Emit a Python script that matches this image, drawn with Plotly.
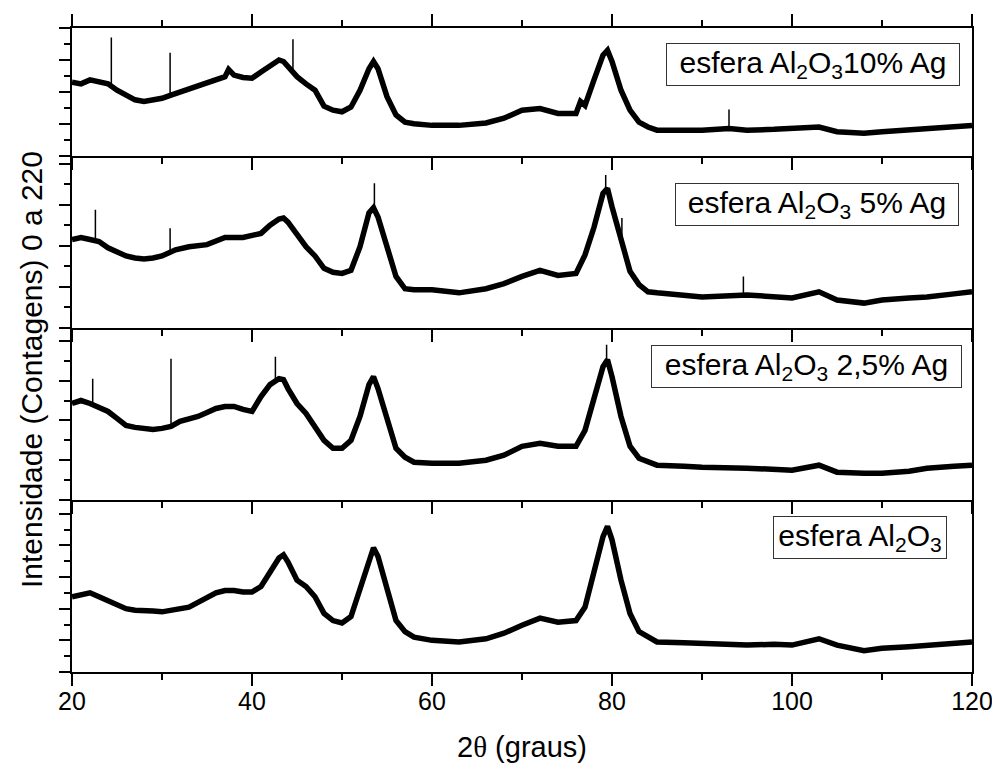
import plotly.graph_objects as go

# ---------------- data ----------------
# Panel 1 (top): esfera Al2O3 10% Ag
p1_x = [20, 21, 22, 23, 24, 25, 26, 27, 28, 29, 30, 31.0,
        32, 33, 34, 35, 36, 37, 37.4, 38, 39, 40, 41, 42, 43, 43.5, 44, 44.5,
        45, 46, 47, 48, 49, 50, 51, 52, 53, 53.5, 54, 55, 56, 57, 58, 60, 63, 66, 68, 70,
        72, 74, 76, 76.5, 77, 78, 79, 79.5, 80, 81, 82, 83, 84, 85, 88, 90, 93,
        95, 98, 100, 103, 105, 108, 110, 113, 115, 118, 120]
p1_y = [92, 90, 95, 92, 90, 82, 76, 70, 68, 70, 72, 76,
        80, 84, 88, 92, 96, 99, 108, 101, 98, 97, 105, 113, 120, 118, 111, 106,
        99, 90, 82, 62, 57, 55, 61, 82, 109, 118, 109, 74, 51, 42, 40, 38, 38, 41, 47, 57,
        59, 53, 53, 68, 63, 95, 126, 132, 118, 82, 57, 42, 36, 32, 32, 32, 34,
        32, 33, 34, 36, 30, 28, 30, 32, 34, 36, 38]
p1_spike_x = [24.37, 30.9, 44.55, 93.0]
p1_spike_lo = [88, 74, 104, 34]
p1_spike_hi = [148, 129, 146, 58]

# Panel 2: esfera Al2O3 5% Ag
p2_x = [20, 21, 22, 23, 24, 25, 26, 27, 28, 29, 30,
        31.5, 33, 35, 37, 39, 41, 42, 43, 43.5, 44, 45, 46, 47, 48, 49, 50, 51, 52, 53,
        53.5, 54, 55, 56, 57, 58, 60, 63, 66, 68, 70, 72, 74, 76, 77, 78, 79,
        79.5, 80, 80.5, 81, 82, 83, 84, 85, 88, 90, 95, 98, 100, 103, 105, 108, 110,
        113, 115, 118, 120]
p2_y = [86, 88, 86, 84, 78, 74, 70, 68, 67, 68, 70,
        76, 79, 81, 88, 88, 92, 100, 106, 107, 103, 91, 79, 70, 58, 54, 53, 56, 79, 112,
        117, 108, 79, 50, 38, 37, 37, 34, 38, 43, 50, 56, 51, 53, 71, 98, 131,
        136, 118, 102, 84, 55, 42, 35, 34, 31, 30, 32, 30, 29, 35, 27, 24, 27,
        29, 30, 33, 35]
p2_spike_x = [22.6, 30.9, 53.6, 79.3, 81.1, 94.6]
p2_spike_lo = [86, 72, 115, 134, 84, 31]
p2_spike_hi = [115, 97, 141, 149, 107, 50]

# Panel 3: esfera Al2O3 2,5% Ag
p3_x = [20, 21, 22, 23, 24, 25, 26, 27, 28, 29, 30, 31.0,
        32, 33, 34, 35, 36, 37, 38, 39, 40, 41, 42, 43, 43.5, 44, 45,
        46, 47, 48, 49, 50, 51, 52, 53, 53.5, 54, 55, 56, 57, 58, 60, 63, 66, 68, 70, 72,
        74, 76, 77, 78, 79, 79.5, 80, 81, 82, 83, 84, 85, 88, 90, 95, 98, 100, 103,
        105, 108, 110, 113, 115, 118, 120]
p3_y = [97, 100, 97, 93, 89, 82, 75, 73, 72, 71, 72, 74,
        79, 81, 84, 88, 92, 94, 94, 91, 89, 104, 116, 122, 121, 112, 97,
        87, 74, 60, 52, 52, 60, 84, 116, 124, 112, 80, 52, 43, 38, 37, 37, 40, 45, 54, 57,
        54, 54, 70, 100, 134, 141, 124, 84, 54, 42, 38, 35, 34, 33, 32, 31, 30, 35,
        28, 27, 27, 29, 32, 34, 35]
p3_spike_x = [22.3, 31.0, 42.6, 79.4]
p3_spike_lo = [97, 73, 119, 138]
p3_spike_hi = [122, 142, 144, 156]

# Panel 4 (bottom): esfera Al2O3
p4_x = [20, 21, 22, 23, 24, 25, 26, 27, 28, 29, 30, 31, 32, 33, 34, 35, 36, 37, 38, 39, 40,
        41, 42, 43, 43.5, 44, 45, 46, 47, 48, 49, 50, 51, 52, 53, 53.5, 54, 55, 56, 57, 58,
        60, 63, 66, 68, 70, 72, 74, 76, 77, 78, 79, 79.5, 80, 81, 82, 83, 84, 85, 88, 90,
        95, 98, 100, 103, 105, 108, 110, 113, 115, 118, 120]
p4_y = [95, 97, 100, 95, 90, 84, 80, 78, 78, 77, 76, 78, 79, 82, 88, 94, 100, 103, 103, 101, 101,
        108, 125, 144, 148, 139, 116, 108, 95, 74, 65, 62, 70, 103, 141, 157, 146, 103, 65, 51, 44,
        40, 38, 42, 49, 59, 68, 63, 65, 82, 125, 171, 184, 167, 116, 74, 51, 44, 38, 37, 36,
        34, 35, 34, 42, 34, 27, 30, 32, 34, 36, 38]
p4_spike_x = []
p4_spike_lo = []
p4_spike_hi = []

labels = ["esfera Al<sub>2</sub>O<sub>3</sub>10% Ag",
          "esfera Al<sub>2</sub>O<sub>3</sub> 5% Ag",
          "esfera Al<sub>2</sub>O<sub>3</sub> 2,5% Ag",
          "esfera Al<sub>2</sub>O<sub>3</sub>"]
x_ticks = [20, 40, 60, 80, 100, 120]
x_minor = [30, 50, 70, 90, 110]
y_title = "Intensidade (Contagens) 0 a 220"
x_title = "2<span style=\"font-family:'Liberation Serif'\">θ</span> (graus)"

# ---------------- layout constants ----------------
W, H = 992, 763
ML, MR, MT, MB = 72, 20, 28, 91
PW, PH = W - ML - MR, H - MT - MB
FONT = "Arial, 'Liberation Sans', sans-serif"

def py(pix):  # pixel y -> paper y
    return (H - MB - pix) / PH

def px(pix):
    return (pix - ML) / PW

# panel pixel bounds (top, bottom) and y ranges, top -> bottom
bounds = [(28, 155.7), (155.7, 327.7), (327.7, 500), (500, 672)]
yranges = [160, 167.8, 173.2, 217.3]
series = [(p1_x, p1_y), (p2_x, p2_y), (p3_x, p3_y), (p4_x, p4_y)]
spikes = [(p1_spike_x, p1_spike_lo, p1_spike_hi), (p2_spike_x, p2_spike_lo, p2_spike_hi),
          (p3_spike_x, p3_spike_lo, p3_spike_hi), (p4_spike_x, p4_spike_lo, p4_spike_hi)]

fig = go.Figure()
n = 4
for i in range(n):
    k = n - i  # axis index: bottom panel = 1
    xs, ys = series[i]
    xa = "x" if k == 1 else f"x{k}"
    ya = "y" if k == 1 else f"y{k}"
    fig.add_trace(go.Scatter(x=xs, y=ys, mode="lines",
                             line=dict(color="black", width=5.5),
                             xaxis=xa, yaxis=ya, showlegend=False,
                             hoverinfo="skip"))
    sx, slo, shi = spikes[i]
    segx, segy = [], []
    for a, lo, hi in zip(sx, slo, shi):
        segx += [a, a, None]
        segy += [lo, hi, None]
    if segx:
        fig.add_trace(go.Scatter(x=segx, y=segy, mode="lines",
                                 line=dict(color="black", width=1.5),
                                 xaxis=xa, yaxis=ya, showlegend=False,
                                 hoverinfo="skip"))
    top, bot = bounds[i]
    dom = [max(0, py(bot)), min(1, py(top))]
    xkey = "xaxis" if k == 1 else f"xaxis{k}"
    ykey = "yaxis" if k == 1 else f"yaxis{k}"
    fig.layout[xkey] = dict(
        range=[20, 120], anchor=ya, showline=True, linewidth=2, linecolor="black",
        ticks="outside", ticklen=12, tickwidth=2, tickcolor="black",
        tickvals=x_ticks, showticklabels=(k == 1), showgrid=False, zeroline=False,
        mirror=("ticks" if k == n else False), automargin=False,
        ticklabeloverflow="allow", ticklabelstandoff=-6,
        minor=dict(tickvals=x_minor, ticks="outside", ticklen=6,
                   tickwidth=2, tickcolor="black"),
        tickfont=dict(family=FONT, size=25, color="black"),
        **({} if k == 1 else {"matches": "x"}))
    fig.layout[ykey] = dict(
        domain=dom, range=[0, yranges[i]], anchor=xa, showline=True, linewidth=2,
        linecolor="black", mirror=True, ticks="outside", ticklen=11, tickwidth=2,
        tickcolor="black", tick0=0, dtick=40, showticklabels=False, showgrid=False,
        zeroline=False, automargin=False,
        minor=dict(tick0=0, dtick=20, ticks="outside", ticklen=6, tickwidth=2,
                   tickcolor="black"))

# label boxes (pixel left, top, width, height)
boxes = [(666, 43, 294, 43), (675, 183, 284, 43), (651, 345, 311, 43), (773, 516, 174, 43)]
for (bx, by, bw, bh), lab in zip(boxes, labels):
    fig.add_annotation(text=lab, xref="paper", yref="paper", x=px(bx), y=py(by),
                       xanchor="left", yanchor="top", width=bw - 2, height=bh - 2,
                       showarrow=False, bordercolor="#333333", borderwidth=1, borderpad=0,
                       bgcolor="white", font=dict(family=FONT, size=30, color="black"))

fig.add_annotation(text=y_title, xref="paper", yref="paper", x=px(32), y=py(370),
                   textangle=-90, showarrow=False, xanchor="center", yanchor="middle",
                   font=dict(family=FONT, size=30, color="black"))
fig.add_annotation(text=x_title, xref="paper", yref="paper", x=px(521.7), y=py(747),
                   showarrow=False, xanchor="center", yanchor="middle",
                   font=dict(family=FONT, size=29, color="black"))

fig.update_layout(width=W, height=H, margin=dict(l=ML, r=MR, t=MT, b=MB, autoexpand=False),
                  paper_bgcolor="white", plot_bgcolor="white", showlegend=False)

fig.write_html("out.html")
